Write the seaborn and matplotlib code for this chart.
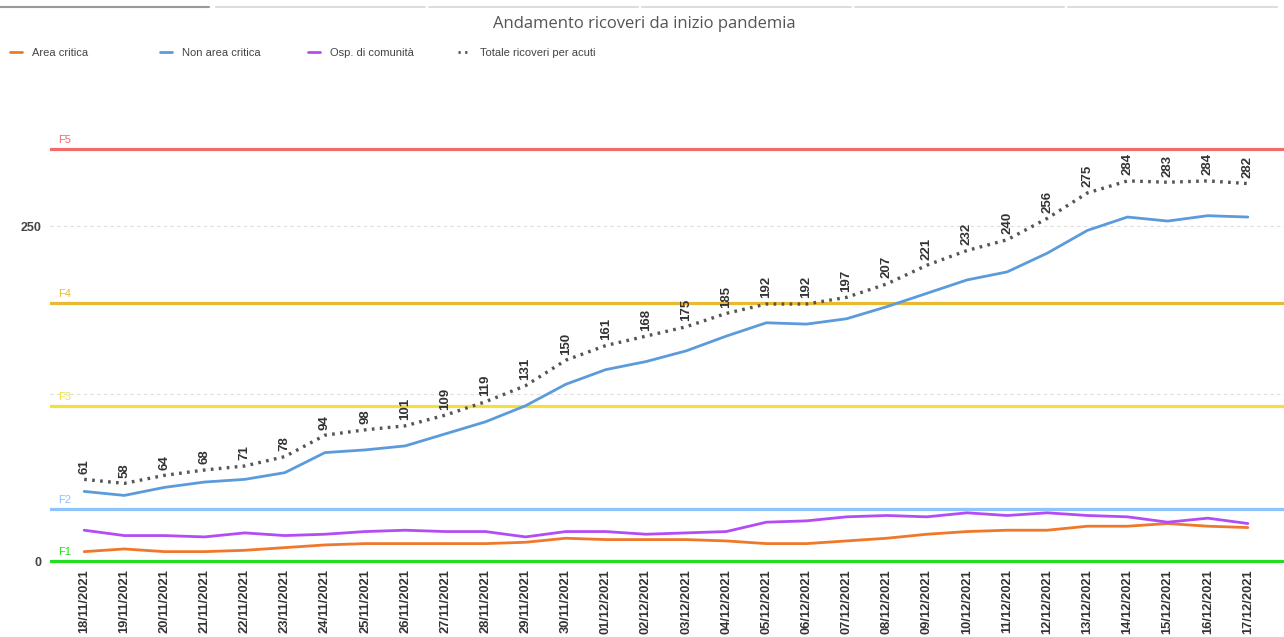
import pandas as pd
import numpy as np
import matplotlib
matplotlib.use('Agg')
import matplotlib.pyplot as plt
from matplotlib.lines import Line2D
import seaborn as sns

# %%
dates = ['18/11/2021', '19/11/2021', '20/11/2021', '21/11/2021', '22/11/2021', '23/11/2021',
         '24/11/2021', '25/11/2021', '26/11/2021', '27/11/2021', '28/11/2021', '29/11/2021',
         '30/11/2021', '01/12/2021', '02/12/2021', '03/12/2021', '04/12/2021', '05/12/2021',
         '06/12/2021', '07/12/2021', '08/12/2021', '09/12/2021', '10/12/2021', '11/12/2021',
         '12/12/2021', '13/12/2021', '14/12/2021', '15/12/2021', '16/12/2021', '17/12/2021']

area_critica = [7, 9, 7, 7, 8, 10, 12, 13, 13, 13, 13, 14, 17, 16, 16, 16, 15, 13,
                13, 15, 17, 20, 22, 23, 23, 26, 26, 28, 26, 25]
non_area_critica = [52, 49, 55, 59, 61, 66, 81, 83, 86, 95, 104, 116, 132, 143, 149, 157, 168, 178,
                    177, 181, 190, 200, 210, 216, 230, 247, 257, 254, 258, 257]
osp_comunita = [23, 19, 19, 18, 21, 19, 20, 22, 23, 22, 22, 18, 22, 22, 20, 21, 22, 29,
                30, 33, 34, 33, 36, 34, 36, 34, 33, 29, 32, 28]
totale_acuti = [61, 58, 64, 68, 71, 78, 94, 98, 101, 109, 119, 131, 150, 161, 168, 175, 185, 192,
                192, 197, 207, 221, 232, 240, 256, 275, 284, 283, 284, 282]

soglie_nomi = ['F1', 'F2', 'F3', 'F4', 'F5']
soglie_valori = [0, 39, 116, 193, 308]
soglie_colori = ['#22dd22', '#8cc4fb', '#f2e041', '#e9b92f', '#f26b6b']

df = pd.DataFrame({'x': np.arange(len(dates)),
                   'Area critica': area_critica,
                   'Non area critica': non_area_critica,
                   'Osp. di comunità': osp_comunita,
                   'Totale ricoveri per acuti': totale_acuti})

# %%
sns.set_style('white')
plt.rcParams['font.family'] = ['Liberation Sans', 'DejaVu Sans']

fig = plt.figure(figsize=(12.84, 6.37), dpi=100)
ax = fig.add_axes([0.039, 0.113, 0.961, 0.769])

# soglie
for nome, val, col in zip(soglie_nomi, soglie_valori, soglie_colori):
    ax.axhline(val, color=col, linewidth=2.3, zorder=2)
    ax.text(-0.65, val + 3, nome, color=col, fontsize=8, ha='left', va='bottom', zorder=3)

# griglia leggera
for g in [125, 250]:
    ax.axhline(g, color='#dddddd', linewidth=0.8, linestyle=(0, (3, 3)), zorder=1)

colors = {'Area critica': '#f0782a', 'Non area critica': '#5b9bdb',
          'Osp. di comunità': '#b44cf5'}
for serie, col in colors.items():
    sns.lineplot(data=df, x='x', y=serie, color=col, linewidth=2, ax=ax, zorder=4)

sns.lineplot(data=df, x='x', y='Totale ricoveri per acuti', color='#555555', linewidth=2.4,
             linestyle=(0, (0.8, 1.6)), ax=ax, zorder=5)

for i, v in enumerate(totale_acuti):
    ax.annotate(str(v), (i, v), xytext=(0, 4), textcoords='offset points', rotation=90,
                ha='center', va='bottom', fontsize=9.5, fontweight='bold', color='#333333', zorder=6)

ax.set_xlim(-0.85, 29.9)
ax.set_ylim(-3, 363)
ax.set_xticks(range(len(dates)))
ax.set_xticklabels(dates, rotation=90, fontsize=9.3, fontweight='bold', color='#333333')
ax.set_yticks([0, 250])
ax.set_yticklabels(['0', '250'], fontsize=9, fontweight='bold', color='#444444')
ax.tick_params(axis='x', length=0, pad=3)
ax.tick_params(axis='y', length=0, pad=6)
ax.set_xlabel('')
ax.set_ylabel('')
sns.despine(ax=ax, left=True, bottom=True)

fig.suptitle('Andamento ricoveri da inizio pandemia', x=0.502, y=0.975, fontsize=12,
             color='#555555', family=['Open Sans', 'DejaVu Sans'])

# legenda: colonne a larghezza fissa
handles = [Line2D([], [], color=colors['Area critica'], linewidth=2),
           Line2D([], [], color=colors['Non area critica'], linewidth=2),
           Line2D([], [], color=colors['Osp. di comunità'], linewidth=2),
           Line2D([], [], color='#555555', linewidth=2, linestyle=(0, (0.8, 1.6)))]
labels = ['Area critica', 'Non area critica', 'Osp. di comunità', 'Totale ricoveri per acuti']
leg_x = [0, 150, 298, 448]
for h, lab, px in zip(handles, labels, leg_x):
    fig.legend([h], [lab], loc='center left', bbox_to_anchor=(px / 1284, 0.917),
               frameon=False, fontsize=8, handlelength=1.1, handletextpad=0.9,
               labelcolor='#444444')

# barre in alto
for k in range(6):
    x0 = k * 213 + (3 if k else 0)
    fig.add_artist(Line2D([x0 / 1284, (x0 + 209) / 1284], [1 - 7 / 637] * 2,
                          color='#999999' if k == 0 else '#dddddd', linewidth=1.5))

fig.savefig('out.png', dpi=100)
